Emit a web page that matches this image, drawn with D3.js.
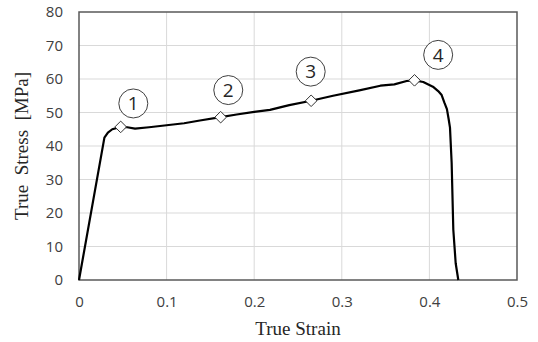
<!DOCTYPE html>
<html>
<head>
<meta charset="utf-8">
<script src="https://cdn.jsdelivr.net/npm/d3@7"></script>
<style>
  body { margin: 0; background: #fff; }
</style>
</head>
<body>
<div id="chart"></div>
<script>
// true strain / true stress readings
const strain = [0, 0.029, 0.033, 0.038, 0.0476, 0.055, 0.064, 0.08, 0.10, 0.12, 0.138, 0.1617, 0.18, 0.20, 0.218, 0.24, 0.265, 0.29, 0.32, 0.344, 0.36, 0.374, 0.383, 0.393, 0.404, 0.41, 0.414, 0.417, 0.42, 0.422, 0.4235, 0.4254, 0.4273, 0.43, 0.433];
const stress = [0, 42.5, 44, 45, 45.7, 45.6, 45.2, 45.6, 46.2, 46.8, 47.6, 48.6, 49.4, 50.2, 50.8, 52.2, 53.5, 55, 56.6, 58, 58.4, 59.4, 59.6, 59.1, 57.7, 56.4, 55.2, 53, 51, 48, 45.5, 35, 15, 5, 0];

// marked points and their circled labels
const markStrain = [0.0476, 0.1617, 0.265, 0.383];
const markStress = [45.7, 48.6, 53.5, 59.6];
const labelText = ['1', '2', '3', '4'];
const labelStrain = [0.062, 0.1704, 0.2645, 0.410];
const labelStress = [52.7, 56.7, 62.2, 67.2];

const xTicks = [0, 0.1, 0.2, 0.3, 0.4, 0.5];
const yTicks = [0, 10, 20, 30, 40, 50, 60, 70, 80];

const width = 538;
const height = 342;
const margin = { top: 12, right: 21, bottom: 62, left: 79 };
const w = width - (margin.left + margin.right);
const h = height - (margin.top + margin.bottom);

const x = d3.scaleLinear().domain([0, 0.5]).range([0, w]);
const y = d3.scaleLinear().domain([0, 80]).range([h, 0]);

const svg = d3.select('#chart').append('svg')
  .attr('width', width)
  .attr('height', height);

const g = svg.append('g')
  .attr('transform', 'translate(' + margin.left + ',' + margin.top + ')');

// gridlines
g.append('g')
  .selectAll('line')
  .data(xTicks.slice(1, -1))
  .join('line')
  .attr('x1', d => x(d)).attr('x2', d => x(d))
  .attr('y1', 0).attr('y2', h)
  .attr('stroke', '#d9d9d9').attr('stroke-width', 1);

g.append('g')
  .selectAll('line')
  .data(yTicks.slice(1, -1))
  .join('line')
  .attr('x1', 0).attr('x2', w)
  .attr('y1', d => y(d)).attr('y2', d => y(d))
  .attr('stroke', '#d9d9d9').attr('stroke-width', 1);

// axes (labels only, frame drawn separately)
const xAxis = d3.axisBottom(x).tickValues(xTicks).tickSize(0).tickPadding(16)
  .tickFormat(d => d === 0 ? '0' : d3.format('.1f')(d));
const yAxis = d3.axisLeft(y).tickValues(yTicks).tickSize(0).tickPadding(16);

const xa = g.append('g').attr('transform', 'translate(0,' + h + ')').call(xAxis);
const ya = g.append('g').call(yAxis);
[xa, ya].forEach(a => {
  a.select('.domain').remove();
  a.selectAll('text')
    .style('font-family', '"Open Sans", "Liberation Sans", sans-serif')
    .style('font-size', '15px')
    .attr('fill', '#404040');
});

// plot frame
g.append('rect')
  .attr('x', 0).attr('y', 0)
  .attr('width', w).attr('height', h)
  .attr('fill', 'none')
  .attr('stroke', '#595959')
  .attr('stroke-width', 1.5);

// curve
const pts = strain.map((s, i) => [s, stress[i]]);
const line = d3.line().x(d => x(d[0])).y(d => y(d[1]));
g.append('path')
  .datum(pts)
  .attr('d', line)
  .attr('fill', 'none')
  .attr('stroke', '#000')
  .attr('stroke-width', 2.2)
  .attr('stroke-linejoin', 'round');

// diamond markers
const diamond = d3.symbol().type(d3.symbolDiamond2).size(85);
g.selectAll('path.mark')
  .data(markStrain)
  .join('path')
  .attr('class', 'mark')
  .attr('d', diamond)
  .attr('transform', (d, i) => 'translate(' + x(d) + ',' + y(markStress[i]) + ')')
  .attr('fill', '#fff')
  .attr('stroke', '#333')
  .attr('stroke-width', 1);

// circled labels
const lab = g.selectAll('g.lab')
  .data(labelText)
  .join('g')
  .attr('class', 'lab')
  .attr('transform', (d, i) => 'translate(' + x(labelStrain[i]) + ',' + y(labelStress[i]) + ')');
lab.append('circle')
  .attr('r', 14.5)
  .attr('fill', '#fff')
  .attr('stroke', '#404040')
  .attr('stroke-width', 1);
lab.append('text')
  .text(d => d)
  .attr('text-anchor', 'middle')
  .attr('dy', '0.36em')
  .style('font-family', '"Open Sans", "Liberation Sans", sans-serif')
  .style('font-size', '19px')
  .attr('fill', '#262626');

// axis titles
svg.append('text')
  .attr('x', margin.left + w / 2)
  .attr('y', 335)
  .attr('text-anchor', 'middle')
  .style('font-family', '"Liberation Serif", "DejaVu Serif", serif')
  .style('font-size', '19px')
  .attr('fill', '#262626')
  .text('True Strain');

svg.append('text')
  .attr('transform', 'translate(28,' + (margin.top + h / 2) + ') rotate(-90)')
  .attr('text-anchor', 'middle')
  .style('font-family', '"Liberation Serif", "DejaVu Serif", serif')
  .style('font-size', '19px')
  .style('white-space', 'pre')
  .attr('fill', '#262626')
  .text('True  Stress  [MPa]');
</script>
</body>
</html>
